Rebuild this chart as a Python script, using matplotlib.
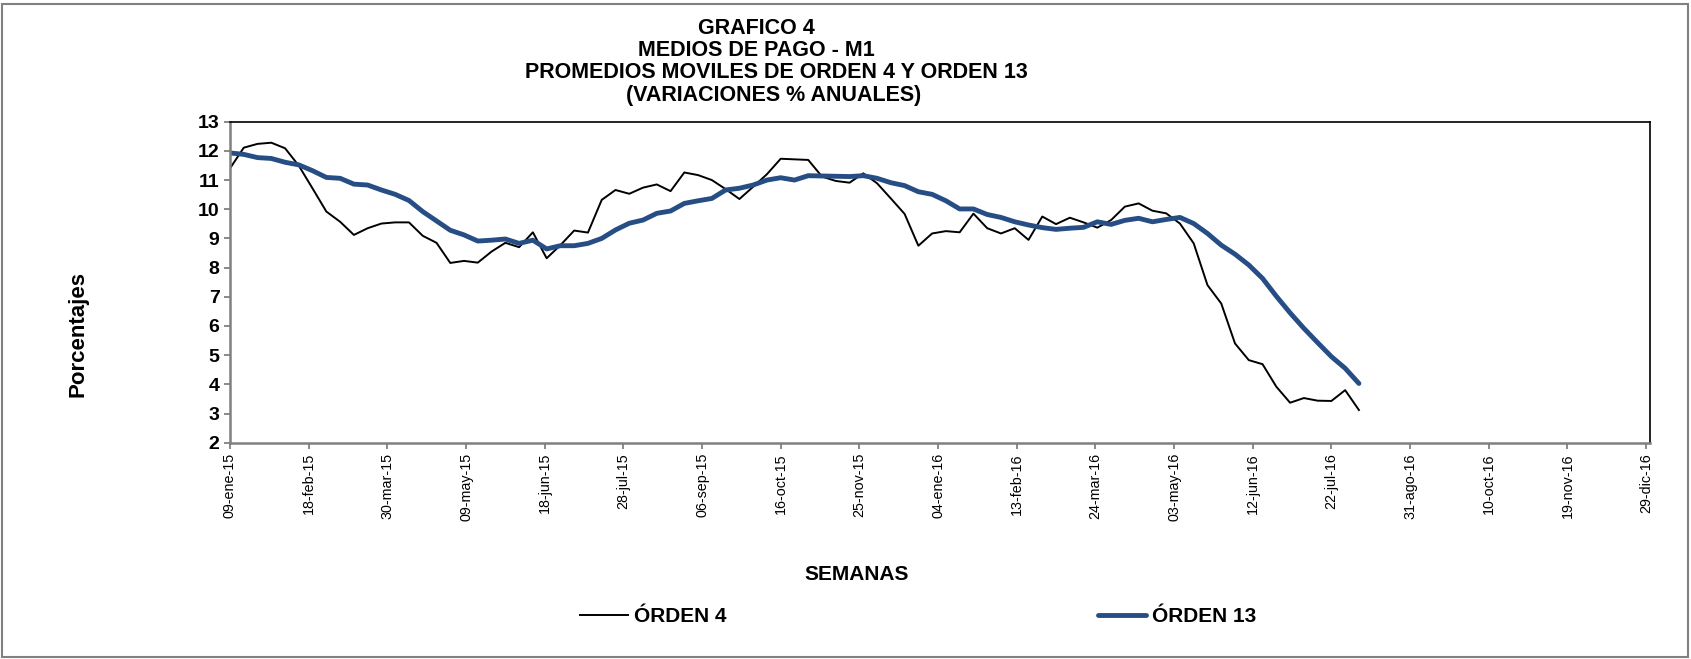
import matplotlib
matplotlib.use("Agg")
import matplotlib.pyplot as plt
import matplotlib.dates as mdates
from matplotlib.patches import Rectangle
import pandas as pd

# ---------------- data ----------------
start_date = "2015-01-09"
orden4 = [11.40, 12.11, 12.24, 12.28, 12.09, 11.49, 10.71, 9.92, 9.57, 9.12,
          9.35, 9.51, 9.55, 9.55, 9.09, 8.85, 8.16, 8.23, 8.17, 8.55,
          8.85, 8.70, 9.21, 8.32, 8.77, 9.27, 9.20, 10.32, 10.66, 10.53,
          10.74, 10.85, 10.62, 11.26, 11.17, 11.00, 10.69, 10.35, 10.77, 11.20,
          11.73, 11.71, 11.69, 11.12, 10.97, 10.91, 11.23, 10.89, 10.37, 9.84,
          8.75, 9.17, 9.25, 9.21, 9.85, 9.35, 9.17, 9.35, 8.95, 9.75,
          9.49, 9.71, 9.55, 9.37, 9.63, 10.09, 10.20, 9.95, 9.86, 9.51,
          8.83, 7.40, 6.77, 5.40, 4.83, 4.69, 3.92, 3.37, 3.53, 3.44,
          3.43, 3.80, 3.12]
orden13 = [11.93, 11.88, 11.77, 11.74, 11.61, 11.52, 11.32, 11.09, 11.06, 10.86,
           10.83, 10.66, 10.51, 10.30, 9.92, 9.60, 9.28, 9.12, 8.91, 8.94,
           8.98, 8.83, 8.94, 8.64, 8.75, 8.75, 8.83, 9.00, 9.29, 9.52,
           9.63, 9.86, 9.94, 10.20, 10.29, 10.37, 10.66, 10.72, 10.83, 11.00,
           11.08, 11.00, 11.15, 11.14, 11.13, 11.12, 11.15, 11.06, 10.91, 10.81,
           10.60, 10.51, 10.29, 10.01, 10.01, 9.82, 9.72, 9.57, 9.46, 9.37,
           9.31, 9.35, 9.38, 9.57, 9.48, 9.62, 9.69, 9.57, 9.65, 9.72,
           9.51, 9.17, 8.77, 8.46, 8.09, 7.63, 7.02, 6.45, 5.92, 5.43,
           4.95, 4.55, 4.03]
tick_labels = ["09-ene-15", "18-feb-15", "30-mar-15", "09-may-15", "18-jun-15",
               "28-jul-15", "06-sep-15", "16-oct-15", "25-nov-15", "04-ene-16",
               "13-feb-16", "24-mar-16", "03-may-16", "12-jun-16", "22-jul-16",
               "31-ago-16", "10-oct-16", "19-nov-16", "29-dic-16"]
title_lines = ["GRAFICO 4", "MEDIOS DE PAGO - M1",
               "PROMEDIOS MOVILES DE ORDEN 4 Y ORDEN 13",
               "(VARIACIONES % ANUALES)"]
series_names = ["ÓRDEN 4", "ÓRDEN 13"]

# ---------------- figure ----------------
plt.rcParams['font.family'] = ['Liberation Sans', 'DejaVu Sans']
fig = plt.figure(figsize=(16.91, 6.59), dpi=100)
ax = fig.add_axes([230/1691, 1-442.7/659, 1420/1691, 321/659])

dates = pd.date_range(start_date, periods=len(orden4), freq="7D")
blue = "#264E85"
l1, = ax.plot(dates, orden4, color="black", lw=1.4, label=series_names[0])
l2, = ax.plot(dates, orden13, color=blue, lw=3.5, solid_capstyle="round",
              label=series_names[1])

tick_dates = pd.date_range(start_date, periods=len(tick_labels), freq="40D")
ax.set_xticks(mdates.date2num(tick_dates))
ax.set_xticklabels(tick_labels, rotation=90, fontsize=10.3)
ax.set_xlim(mdates.date2num(pd.Timestamp(start_date)),
            mdates.date2num(pd.Timestamp("2016-12-31")))
ax.set_ylim(2, 13)
ax.set_yticks(range(2, 14))
ax.set_yticklabels([str(v) for v in range(2, 14)], fontsize=14, fontweight="bold")

for s in ["left", "bottom"]:
    ax.spines[s].set_color("#808080")
    ax.spines[s].set_linewidth(1.8)
for s in ["top", "right"]:
    ax.spines[s].set_color("black")
    ax.spines[s].set_linewidth(1.2)
ax.tick_params(axis="both", direction="out", length=4.5, width=1.3,
               color="#808080", pad=3)

# titles
ys = [29, 50, 73, 95]
xs = [756, 756, 776, 774]
for t, x, y in zip(title_lines, xs, ys):
    fig.text(x/1691, 1-y/659, t, ha="center", va="center", fontsize=15.5,
             fontweight="bold")

fig.text(78/1691, 1-334/659, "Porcentajes", rotation=90, ha="center",
         va="center", fontsize=16, fontweight="bold")
fig.text(857/1691, 1-575/659, "SEMANAS", ha="center", va="center",
         fontsize=15, fontweight="bold")

# legends
for h, x in [(l1, 580), (l2, 1098)]:
    fig.legend(handles=[h], loc="center left", bbox_to_anchor=(x/1691, 1-617/659),
               frameon=False, borderpad=0, borderaxespad=0, handlelength=2.3,
               handletextpad=0.3, prop={"weight": "bold", "size": 15})

# figure border
fig.patches.append(Rectangle((2/1691, 2/659), 1686/1691, 653/659,
                             transform=fig.transFigure, fill=False,
                             edgecolor="#808080", lw=1.5))

fig.savefig("out.png", dpi=100)
